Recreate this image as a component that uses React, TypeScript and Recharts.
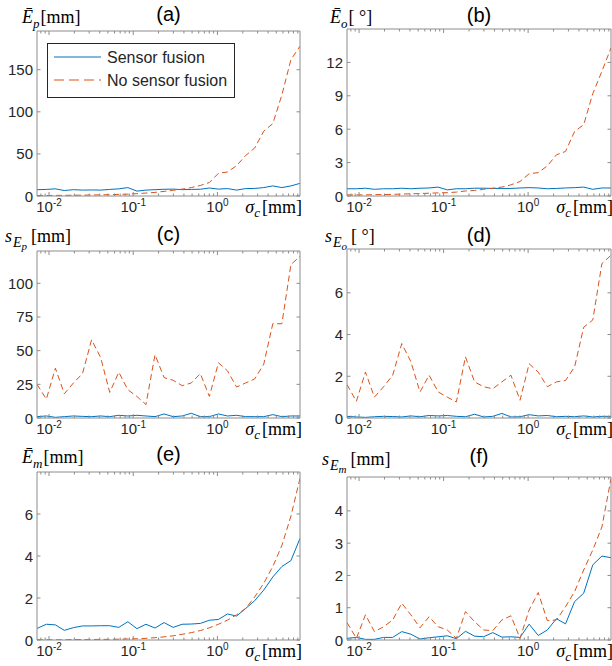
import { LineChart, Line, XAxis, YAxis, Legend } from 'recharts'

// noise level sigma_c [mm], log spaced
const SIGMA = [0.0072, 0.0093, 0.0119, 0.0152, 0.0195, 0.025, 0.032, 0.041, 0.0526, 0.0674, 0.0863, 0.1106, 0.1416, 0.1815, 0.2325, 0.2979, 0.3816, 0.4889, 0.6263, 0.8023, 1.028, 1.317, 1.687, 2.161, 2.769, 3.548, 4.545, 5.823, 7.46, 9.56]

const A_FUSION = [7.5, 7.8, 8.5, 6.5, 7.5, 7.0, 7.2, 7.0, 7.8, 8.5, 10.0, 5.8, 7.0, 7.5, 8.0, 8.2, 7.5, 7.8, 8.0, 9.5, 8.2, 8.8, 7.0, 8.8, 9.0, 10.0, 12.0, 10.0, 12.0, 15.0]
const A_NOFUSION = [0.5, 0.6, 0.7, 0.8, 0.9, 1.0, 1.2, 1.4, 1.6, 1.9, 2.2, 2.8, 3.5, 4.3, 5.5, 6.8, 8.2, 10.0, 12.5, 16.0, 27.0, 28.5, 36.0, 48.0, 57.0, 77.0, 86.0, 120.0, 162.0, 178.0]

const B_FUSION = [0.65, 0.65, 0.7, 0.6, 0.65, 0.65, 0.7, 0.65, 0.7, 0.72, 0.8, 0.55, 0.65, 0.65, 0.7, 0.7, 0.68, 0.68, 0.68, 0.72, 0.75, 0.72, 0.65, 0.68, 0.72, 0.75, 0.8, 0.6, 0.72, 0.72]
const B_NOFUSION = [0.1, 0.1, 0.1, 0.12, 0.13, 0.15, 0.17, 0.2, 0.22, 0.25, 0.28, 0.3, 0.35, 0.45, 0.5, 0.6, 0.7, 0.8, 1.0, 1.3, 2.0, 2.1, 2.7, 3.7, 4.0, 5.8, 6.4, 9.2, 11.2, 13.3]

const C_FUSION = [1, 1.5, 0.5, 1, 1.5, 1.2, 1, 1.5, 1, 2, 1.5, 2, 1.5, 1, 3, 1, 1.5, 3.5, 1, 1, 3, 1.5, 2, 1, 1, 1, 2.5, 1, 1.5, 1.5]
const C_NOFUSION = [25, 14, 37, 18, 26, 33, 58, 45, 19, 34, 21, 16, 10, 47, 30, 28, 24, 26, 33, 16, 41, 35, 23, 26, 29, 40, 70, 70, 114, 120]

const D_FUSION = [0.08, 0.05, 0.03, 0.06, 0.08, 0.07, 0.05, 0.1, 0.06, 0.12, 0.1, 0.12, 0.08, 0.06, 0.18, 0.05, 0.08, 0.22, 0.05, 0.06, 0.16, 0.1, 0.12, 0.06, 0.08, 0.06, 0.1, 0.05, 0.08, 0.08]
const D_NOFUSION = [1.6, 0.8, 2.2, 1.0, 1.5, 2.05, 3.57, 2.7, 1.25, 2.05, 1.25, 1.0, 0.77, 2.93, 1.73, 1.5, 1.4, 1.73, 2.05, 0.85, 2.6, 2.2, 1.5, 1.73, 1.8, 2.45, 4.35, 4.7, 7.4, 7.8]

const E_FUSION = [0.55, 0.75, 0.72, 0.46, 0.59, 0.67, 0.67, 0.68, 0.68, 0.6, 0.87, 0.54, 0.75, 0.57, 0.83, 0.6, 0.75, 0.76, 0.79, 0.94, 0.98, 1.24, 1.14, 1.5, 1.87, 2.38, 3.0, 3.5, 3.78, 4.84]
const E_NOFUSION = [0.01, 0.01, 0.01, 0.01, 0.02, 0.02, 0.02, 0.03, 0.03, 0.04, 0.05, 0.06, 0.08, 0.11, 0.15, 0.2, 0.27, 0.35, 0.45, 0.58, 0.75, 0.95, 1.2, 1.5, 2.05, 2.7, 3.5, 4.5, 5.9, 7.7]

const F_FUSION = [0.05, 0.08, 0.02, 0.02, 0.08, 0.08, 0.26, 0.18, 0.03, 0.07, 0.1, 0.13, 0.04, 0.27, 0.12, 0.1, 0.23, 0.09, 0.1, 0.08, 0.49, 0.14, 0.31, 0.66, 0.5, 1.19, 1.45, 2.33, 2.6, 2.55]
const F_NOFUSION = [0.54, 0.05, 0.78, 0.26, 0.41, 0.62, 1.14, 0.78, 0.38, 0.72, 0.41, 0.31, 0.05, 0.88, 0.57, 0.31, 0.29, 0.62, 0.75, 0.05, 0.93, 1.47, 0.6, 0.62, 1.03, 1.5, 2.17, 2.79, 3.5, 5.0]

const X_MAJOR = [0.01, 0.1, 1]
const X_TICKS = [0.008, 0.009, 0.01, 0.02, 0.03, 0.04, 0.05, 0.06, 0.07, 0.08, 0.09, 0.1, 0.2, 0.3, 0.4, 0.5, 0.6, 0.7, 0.8, 0.9, 1, 2, 3, 4, 5, 6, 7, 8, 9]

const SERIES_NAMES = ['Sensor fusion', 'No sensor fusion']

const BLUE = '#0072BD'
const ORANGE = '#D95319'
const AXIS = '#8c8c8c'
const TEXT = '#262626'
const SANS = '"Liberation Sans", Arial, sans-serif'
const SERIF = '"Liberation Serif", "Times New Roman", serif'

const PANELS = [
  { title: '(a)', fusion: A_FUSION, noFusion: A_NOFUSION, yMax: 196, yTicks: [0, 50, 100, 150],
    lab: { main: 'Ē', sub: 'p', unit: '[mm]' }, box: { l: 37, t: 31, r: 300, b: 196 }, titleY: 21, labX: 22, labY: 23, legend: true },
  { title: '(b)', fusion: B_FUSION, noFusion: B_NOFUSION, yMax: 15, yTicks: [0, 3, 6, 9, 12],
    lab: { main: 'Ē', sub: 'o', unit: '[ °]' }, box: { l: 347, t: 29, r: 611, b: 196 }, titleY: 21.5, labX: 330, labY: 23 },
  { title: '(c)', fusion: C_FUSION, noFusion: C_NOFUSION, yMax: 124, yTicks: [0, 25, 50, 75, 100],
    lab: { main: 's', sub: 'E', subsub: 'p', unit: '[mm]' }, box: { l: 37, t: 251, r: 300, b: 418 }, titleY: 241, labX: 5, labY: 242 },
  { title: '(d)', fusion: D_FUSION, noFusion: D_NOFUSION, yMax: 8.1, yTicks: [0, 2, 4, 6],
    lab: { main: 's', sub: 'E', subsub: 'o', unit: '[ °]' }, box: { l: 347, t: 249, r: 611, b: 418 }, titleY: 241.5, labX: 325, labY: 242 },
  { title: '(e)', fusion: E_FUSION, noFusion: E_NOFUSION, yMax: 8, yTicks: [0, 2, 4, 6],
    lab: { main: 'Ē', sub: 'm', unit: '[mm]' }, box: { l: 37, t: 472, r: 300, b: 640 }, titleY: 461, labX: 22, labY: 463 },
  { title: '(f)', fusion: F_FUSION, noFusion: F_NOFUSION, yMax: 5.05, yTicks: [0, 1, 2, 3, 4],
    lab: { main: 's', sub: 'E', subsub: 'm', unit: '[mm]' }, box: { l: 347, t: 477, r: 611, b: 640 }, titleY: 463, labX: 322, labY: 465 },
]

const ML = 40
const MT = 40

function XTickBottom(props: any) {
  const { x, y, payload } = props
  const v = payload.value
  const major = X_MAJOR.includes(v)
  return (
    <g>
      <line x1={x} x2={x} y1={y} y2={y - (major ? 4 : 2.5)} stroke={AXIS} />
      {major && (
        <text x={x} y={y + 16} textAnchor="middle" fill={TEXT} fontFamily={SANS} fontSize={15}>
          <tspan>10</tspan>
          <tspan dy={-6} fontSize={10}>{Math.round(Math.log10(v))}</tspan>
        </text>
      )}
    </g>
  )
}

function XTickTop(props: any) {
  const { x, y, payload } = props
  const major = X_MAJOR.includes(payload.value)
  return <line x1={x} x2={x} y1={y} y2={y + (major ? 4 : 2.5)} stroke={AXIS} />
}

function YTickLeft(props: any) {
  const { x, y, payload } = props
  return (
    <g>
      <line x1={x} x2={x + 3.5} y1={y} y2={y} stroke={AXIS} />
      <text x={x - 4} y={y + 5.5} textAnchor="end" fill={TEXT} fontFamily={SANS} fontSize={15}>
        {payload.value}
      </text>
    </g>
  )
}

function YTickRight(props: any) {
  const { x, y } = props
  return <line x1={x} x2={x - 3.5} y1={y} y2={y} stroke={AXIS} />
}

function renderLegend(props: any) {
  const items = [...(props.payload || [])].sort(
    (a: any, b: any) => SERIES_NAMES.indexOf(a.value) - SERIES_NAMES.indexOf(b.value))
  return (
    <div style={{ width: 186, height: 53, border: '1px solid #262626', background: '#fff' }}>
      <svg width={186} height={53} style={{ display: 'block' }}>
        {items.map((e: any, i: number) => (
          <g key={e.value}>
            <line x1={6} x2={53} y1={13 + i * 23} y2={13 + i * 23} stroke={e.color}
              strokeDasharray={e.value === SERIES_NAMES[1] ? '10 5' : undefined} />
            <text x={59} y={18.5 + i * 23} fill={TEXT} fontFamily={SANS} fontSize={16}>{e.value}</text>
          </g>
        ))}
      </svg>
    </div>
  )
}

function Panel({ p }: { p: any }) {
  const { l, t, r, b } = p.box
  const ox = l - ML
  const oy = t - MT
  const w = r - ox + 8
  const h = b - oy + 24
  const data = SIGMA.map((s, i) => ({ sigma: s, fusion: p.fusion[i], noFusion: p.noFusion[i] }))
  const xDomain = [SIGMA[0], SIGMA[SIGMA.length - 1]]
  const sub = 5
  return (
    <div style={{ position: 'absolute', left: ox, top: oy }}>
      <LineChart width={w} height={h} data={data}
        margin={{ top: MT - 1, left: ML - 1, right: w - ML - (r - l) - 1, bottom: h - MT - (b - t) - 1 }}>
        <XAxis dataKey="sigma" type="number" scale="log" domain={xDomain} allowDataOverflow
          ticks={X_TICKS} interval={0} tickLine={false} tickSize={0} tickMargin={0} height={1}
          axisLine={{ stroke: AXIS }} tick={XTickBottom} />
        <XAxis xAxisId="top" orientation="top" dataKey="sigma" type="number" scale="log" domain={xDomain}
          allowDataOverflow ticks={X_TICKS} interval={0} tickLine={false} tickSize={0} tickMargin={0}
          height={1} axisLine={{ stroke: AXIS }} tick={XTickTop} />
        <YAxis type="number" domain={[0, p.yMax]} allowDataOverflow ticks={p.yTicks} interval={0}
          tickLine={false} tickSize={0} tickMargin={0} width={1} axisLine={{ stroke: AXIS }} tick={YTickLeft} />
        <YAxis yAxisId="right" orientation="right" type="number" domain={[0, p.yMax]} allowDataOverflow
          ticks={p.yTicks} interval={0} tickLine={false} tickSize={0} tickMargin={0} width={1}
          axisLine={{ stroke: AXIS }} tick={YTickRight} />
        <Line type="linear" dataKey="fusion" name={SERIES_NAMES[0]} stroke={BLUE} strokeWidth={1}
          dot={false} activeDot={false} isAnimationActive={false} />
        <Line type="linear" dataKey="noFusion" name={SERIES_NAMES[1]} stroke={ORANGE} strokeWidth={1}
          strokeDasharray="6 3.5" dot={false} activeDot={false} isAnimationActive={false} />
        {p.legend && (
          <Legend layout="vertical" align="center" verticalAlign="middle" content={renderLegend}
            wrapperStyle={{ left: 50, top: 42 + (MT - 30), width: 188, height: 55 }} />
        )}
        <text x={ML + (r - l) / 2} y={p.titleY - oy} textAnchor="middle" fill="#000"
          fontFamily={SANS} fontSize={20}>{p.title}</text>
        <text x={p.labX - ox} y={p.labY - oy} fill="#000" fontFamily={SERIF} fontSize={18}>
          <tspan fontStyle="italic">{p.lab.main}</tspan>
          <tspan fontStyle="italic" fontSize={p.lab.subsub ? 14 : 13} dx={p.lab.subsub ? 1 : 0} dy={sub}>{p.lab.sub}</tspan>
          {p.lab.subsub && <tspan fontStyle="italic" fontSize={11} dy={3}>{p.lab.subsub}</tspan>}
          <tspan dx={p.lab.subsub ? 4 : 1} dy={p.lab.subsub ? -sub - 3 : -sub}>{p.lab.unit}</tspan>
        </text>
        <text x={ML + (r - l) + 2} y={b - oy + 17} textAnchor="end" fill="#000" fontFamily={SERIF} fontSize={18}>
          <tspan fontStyle="italic">σ</tspan>
          <tspan fontStyle="italic" fontSize={13} dy={4}>c</tspan>
          <tspan dx={2} dy={-4}>[mm]</tspan>
        </text>
      </LineChart>
    </div>
  )
}

export default function App() {
  return (
    <div style={{ position: 'absolute', left: 0, top: 0, width: 612, height: 666, overflow: 'hidden', background: '#fff' }}>
      {PANELS.map((p) => <Panel key={p.title} p={p} />)}
    </div>
  )
}
